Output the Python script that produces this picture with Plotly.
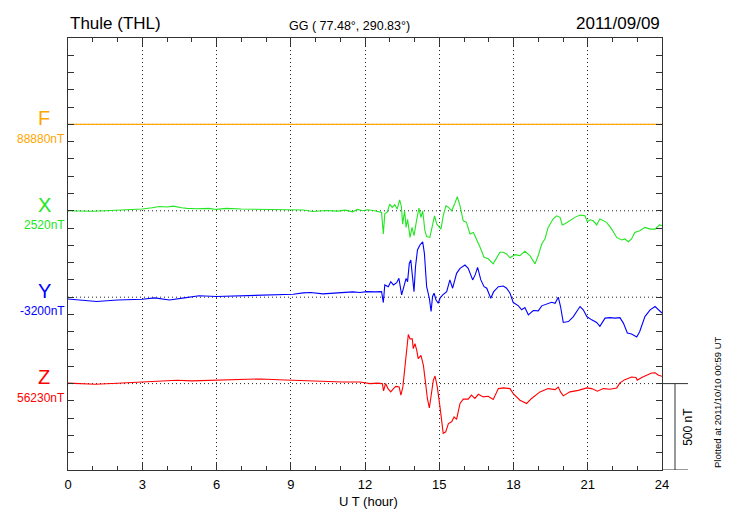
import plotly.graph_objects as go

# ---------------- data (nT deviations from each component's baseline) ----------------
components = ["F", "X", "Y", "Z"]
baseline_labels = ["88880nT", "2520nT", "-3200nT", "56230nT"]
offsets = [2000, 1500, 1000, 500]          # vertical stacking position (nT)
colors = ["#FFA500", "#22E622", "#0000FF", "#FF0000"]

t_F = [0.0, 24.0]
F_dev = [0, 0]

t_X = [0.0, 0.5, 1.0, 1.5, 2.0, 2.5, 3.0, 3.4, 3.7, 4.0, 4.25, 4.6, 4.8, 5.2, 5.7, 6.0, 6.4, 7.0,
       7.8, 8.5, 9.1, 9.5, 9.9, 10.4, 10.9, 11.2, 11.5, 11.7, 11.9, 12.1, 12.4, 12.67, 12.74, 12.8,
       12.9, 13.0, 13.1, 13.2, 13.3, 13.4, 13.47, 13.52, 13.6, 13.66, 13.72, 13.82, 13.9, 13.98,
       14.08, 14.18, 14.26, 14.33, 14.42, 14.49, 14.62, 14.73, 14.81, 14.9, 14.99, 15.07, 15.16,
       15.27, 15.38, 15.5, 15.62, 15.73, 15.84, 15.97, 16.1, 16.24, 16.38, 16.51, 16.65, 16.81,
       16.98, 17.18, 17.3, 17.45, 17.59, 17.72, 17.86, 18.06, 18.26, 18.46, 18.66, 18.87, 19.0,
       19.14, 19.27, 19.4, 19.6, 19.74, 19.88, 19.97, 20.1, 20.28, 20.48, 20.69, 20.89, 20.98,
       21.1, 21.22, 21.36, 21.49, 21.63, 21.76, 21.97, 22.17, 22.37, 22.5, 22.64, 22.77, 22.9,
       23.1, 23.31, 23.52, 23.72, 23.9, 24.0]
X_dev = [0, -2, -3, 0, 2, 4, 10, 18, 25, 22, 27, 18, 14, 12, 14, 8, 14, 10,
         8, 10, 6, 5, -4, 2, -2, 4, -6, 8, 0, 6, 0, -10, -134, -18,
         -8, 39, 20, 35, 10, 63, 25, -77, 0, -96, -50, -154, -96, -144,
         -58, 16, -38, 0, -115, -149, -154, -77, -29, -77, -96, -106, -29,
         29, 20, 0, 39, 82, 29, -58, -67, -134, -125, -163, -211, -269,
         -278, -307, -278, -240, -240, -250, -272, -254, -259, -234, -259, -307, -259,
         -192, -163, -96, -48, -29, -38, -82, -73, -54, -38, -25, -29, -63,
         -52, -58, -82, -48, -58, -67, -106, -154, -169, -163, -179, -163, -125,
         -115, -96, -106, -106, -82, -86]

t_Y = [0.0, 0.5, 1.16, 2.0, 3.0, 3.5, 4.1, 4.7, 5.3, 6.0, 6.8, 7.76, 8.5, 9.1, 9.5, 9.8, 10.3,
       11.1, 11.5, 11.8, 12.07, 12.4, 12.67, 12.74, 12.8, 12.94, 13.04, 13.15, 13.28, 13.37,
       13.48, 13.57, 13.66, 13.72, 13.79, 13.85, 13.92, 13.98, 14.04, 14.12, 14.22, 14.33, 14.4,
       14.49, 14.6, 14.67, 14.73, 14.79, 14.87, 14.96, 15.03, 15.14, 15.3, 15.43, 15.54, 15.7,
       15.84, 16.04, 16.17, 16.35, 16.45, 16.55, 16.68, 16.81, 16.92, 17.08, 17.2, 17.39, 17.59,
       17.72, 17.86, 17.99, 18.2, 18.33, 18.46, 18.6, 18.8, 19.0, 19.14, 19.34, 19.54, 19.68,
       19.81, 19.9, 20.01, 20.22, 20.42, 20.58, 20.69, 20.82, 20.96, 21.16, 21.36, 21.49, 21.7,
       21.9, 22.1, 22.3, 22.44, 22.6, 22.77, 22.98, 23.1, 23.31, 23.52, 23.72, 23.86, 24.0]
Y_dev = [-10, -16, -25, -16, -12, -4, -16, -4, 8, 4, 8, 13, 15, 17, 25, 27, 19,
         27, 31, 27, 32, 31, 32, -31, 71, 61, 90, 71, 84, 109,
         13, 61, 109, 90, 196, 215, 100, 32, 176, 273, 302, 320, 254,
         61, -6, -83, 4, 23, -16, -35, -6, 13, 32, 100, 52, 138,
         167, 186, 167, 100, 129, 173, 100, 61, 52, -6, 32, 61, 65,
         52, 23, -31, -50, -73, -60, -102, -77, -79, -50, -39, -29, -35,
         0, -54, -146, -141, -112, -77, -54, -73, -112, -131, -146, -169, -121,
         -118, -121, -118, -150, -207, -213, -230, -198, -112, -73, -54, -73, -92]

t_Z = [0.0, 0.5, 1.1, 2.0, 3.0, 3.5, 4.4, 5.0, 6.0, 7.0, 7.8, 8.5, 9.1, 9.9, 10.5, 11.1, 11.8,
       12.2, 12.5, 12.7, 12.75, 12.83, 12.93, 13.04, 13.15, 13.25, 13.38, 13.45, 13.53, 13.64,
       13.75, 13.82, 13.91, 13.95, 14.02, 14.09, 14.15, 14.26, 14.36, 14.45, 14.52, 14.6, 14.67,
       14.76, 14.83, 14.92, 15.03, 15.1, 15.16, 15.26, 15.37, 15.5, 15.6, 15.7, 15.84, 15.97,
       16.17, 16.3, 16.44, 16.58, 16.78, 16.98, 17.18, 17.39, 17.59, 17.86, 17.99, 18.26, 18.53,
       18.73, 19.07, 19.4, 19.68, 19.81, 19.9, 20.01, 20.28, 20.62, 20.96, 21.16, 21.39, 21.63,
       21.9, 22.17, 22.3, 22.5, 22.77, 22.95, 23.0, 23.18, 23.38, 23.58, 23.72, 23.86, 24.0]
Z_dev = [3, -1, -4, 2, 9, 13, 19, 16, 19, 22, 27, 22, 19, 13, 13, 9, 9,
         0, 3, 0, -42, 0, -29, -48, -29, -16, -19, -67, -19, 154,
         284, 259, 259, 202, 231, 192, 144, 163, 105, 0, -86, -141, -77,
         19, 44, -19, -135, -212, -288, -279, -231, -221, -193, -207, -115, -90,
         -90, -67, -86, -62, -77, -73, -92, -29, -25, -29, -58, -96, -115,
         -86, -48, -29, -35, -20, -48, -71, -48, -39, -25, -29, -44, -29,
         -33, -25, 4, 23, 38, 35, 19, 35, 48, 61, 63, 48, 42]

hour_ticks = [0, 3, 6, 9, 12, 15, 18, 21, 24]
scale_nT = 500

station = "Thule (THL)"
coords = "GG ( 77.48°, 290.83°)"
date = "2011/09/09"
plotted = "Plotted at 2011/10/10 00:59 UT"

# ---------------- figure ----------------
FONT = "Liberation Sans, Arial, Helvetica, sans-serif"
AX = "#333333"
DOT = "1px,3px"

series_t = [t_F, t_X, t_Y, t_Z]
series_v = [F_dev, X_dev, Y_dev, Z_dev]

fig = go.Figure()
shapes = []
annotations = []

for name, lab, off, col, tt, vv in zip(components, baseline_labels, offsets, colors, series_t, series_v):
    # dotted baseline
    shapes.append(dict(type="line", xref="paper", yref="y", x0=0, x1=1, y0=off, y1=off,
                       line=dict(color="#222222", width=1, dash=DOT), layer="below"))
    fig.add_trace(go.Scatter(x=tt, y=[off + v for v in vv], mode="lines",
                             line=dict(color=col, width=1.1), name=name,
                             hoverinfo="skip", showlegend=False))
    annotations.append(dict(text=name, xref="paper", yref="y", x=-0.0404, y=off + 36,
                            xanchor="center", yanchor="middle", showarrow=False,
                            font=dict(family=FONT, size=20, color=col)))
    annotations.append(dict(text=lab, xref="paper", yref="y", x=-0.0017, y=off - 82,
                            xanchor="right", yanchor="middle", showarrow=False,
                            font=dict(family=FONT, size=12, color=col)))

# 500 nT scale bar on the right
bar_top = offsets[-1]
bar_bot = offsets[-1] - scale_nT
shapes += [
    dict(type="line", xref="paper", yref="y", x0=1.0, x1=1.0438, y0=bar_top, y1=bar_top,
         line=dict(color=AX, width=1)),
    dict(type="line", xref="paper", yref="y", x0=1.0, x1=1.0438, y0=bar_bot, y1=bar_bot,
         line=dict(color=AX, width=1)),
    dict(type="line", xref="paper", yref="y", x0=1.0219, x1=1.0219, y0=bar_bot, y1=bar_top,
         line=dict(color=AX, width=1)),
]
annotations.append(dict(text=f"{scale_nT} nT", xref="paper", yref="y", x=1.0438,
                        y=(bar_top + bar_bot) / 2, textangle=-90, showarrow=False,
                        xanchor="center", yanchor="middle",
                        font=dict(family=FONT, size=12, color="black")))
annotations.append(dict(text=plotted, xref="paper", yref="paper", x=1.0926, y=0.0,
                        textangle=-90, showarrow=False, xanchor="center", yanchor="bottom",
                        font=dict(family=FONT, size=9.5, color="black")))

# titles
annotations.append(dict(text=station, xref="paper", yref="paper", x=0.0, y=1 + (38 - 24) / 432,
                        xanchor="left", yanchor="middle", showarrow=False,
                        font=dict(family=FONT, size=17, color="black")))
annotations.append(dict(text=coords, xref="paper", yref="paper", x=0.4747, y=1 + (38 - 26) / 432,
                        xanchor="center", yanchor="middle", showarrow=False,
                        font=dict(family=FONT, size=12.5, color="black")))
annotations.append(dict(text=date, xref="paper", yref="paper", x=1.0, y=1 + (38 - 24) / 432,
                        xanchor="right", yanchor="middle", showarrow=False,
                        font=dict(family=FONT, size=17, color="black")))
annotations.append(dict(text="U T (hour)", xref="paper", yref="paper", x=0.5057,
                        y=(470 - 501.7) / 432, xanchor="center", yanchor="middle",
                        showarrow=False, font=dict(family=FONT, size=13, color="black")))

# The page adds an 8px body margin, so the figure is 8px smaller and margins shifted
fig.update_layout(
    width=722, height=512,
    margin=dict(l=60, r=68, t=30, b=50, pad=0),
    paper_bgcolor="white", plot_bgcolor="white",
    shapes=shapes, annotations=annotations,
    font=dict(family=FONT, size=12, color="black"),
    xaxis=dict(range=[0, 24], tickvals=hour_ticks, ticktext=[str(h) for h in hour_ticks],
               ticks="inside", ticklen=8, tickcolor=AX, tickwidth=1,
               showline=True, linecolor=AX, linewidth=1, mirror="ticks",
               showgrid=True, gridcolor="#222222", griddash=DOT, gridwidth=1,
               zeroline=False, ticklabelstandoff=2,
               tickfont=dict(family=FONT, size=13, color="black"),
               minor=dict(dtick=1, tick0=0, ticks="inside", ticklen=4, tickcolor=AX, showgrid=False)),
    yaxis=dict(range=[0, 2500], tick0=0, dtick=100, ticks="inside", ticklen=6,
               tickcolor=AX, showticklabels=False, showline=True, linecolor=AX,
               linewidth=1, mirror="ticks", showgrid=False, zeroline=False),
)

fig.write_html("out.html")
